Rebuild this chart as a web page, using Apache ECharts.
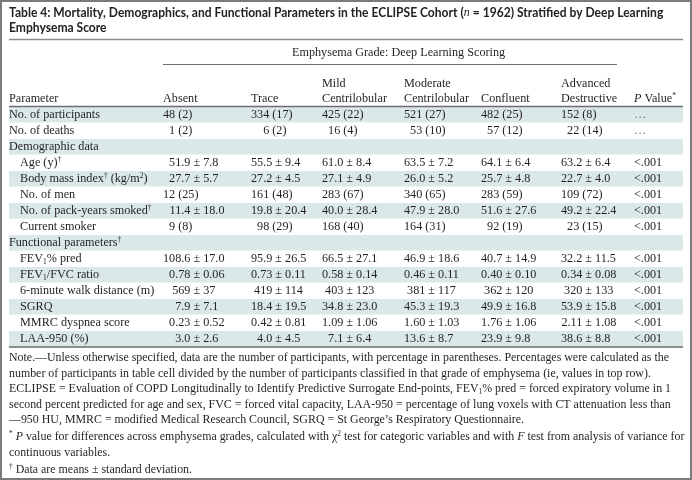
<!DOCTYPE html>
<html><head><meta charset="utf-8">
<script src="https://cdn.jsdelivr.net/npm/echarts@6/dist/echarts.min.js"></script>
<style>html,body{margin:0;padding:0;background:#fff}#c{width:692px;height:480px}</style>
</head><body><div id="c"></div>
<script>
// ---------- DATA ----------
const titleLines = [
  'Table 4: Mortality, Demographics, and Functional Parameters in the ECLIPSE Cohort ({ti|n} = 1962) Stratified by Deep Learning',
  'Emphysema Score'
];
const spannerLabel = 'Emphysema Grade: Deep Learning Scoring';
const columnHeaders = [
  ['', 'Parameter'], ['', 'Absent'], ['', 'Trace'], ['Mild', 'Centrilobular'],
  ['Moderate', 'Centrilobular'], ['', 'Confluent'], ['Advanced', 'Destructive'], ['', '{it|P} Value{sup|*}']
];
const rowLabels = [
  'No. of participants', 'No. of deaths', 'Demographic data', 'Age (y){sup|†}',
  'Body mass index{sup|†} (kg/m{sup|2})', 'No. of men', 'No. of pack-years smoked{sup|†}',
  'Current smoker', 'Functional parameters{sup|†}', 'FEV{sub|1}% pred', 'FEV{sub|1}/FVC ratio',
  '6-minute walk distance (m)', 'SGRQ', 'MMRC dyspnea score', 'LAA-950 (%)'
];
const rowLevel = [0, 0, 0, 1, 1, 1, 1, 1, 0, 1, 1, 1, 1, 1, 1];
const absentValues = ['48 (2)', '1 (2)', null, '51.9 ± 7.8', '27.7 ± 5.7', '12 (25)', '11.4 ± 18.0', '9 (8)', null,
  '108.6 ± 17.0', '0.78 ± 0.06', '569 ± 37', '7.9 ± 7.1', '0.23 ± 0.52', '3.0 ± 2.6'];
const traceValues = ['334 (17)', '6 (2)', null, '55.5 ± 9.4', '27.2 ± 4.5', '161 (48)', '19.8 ± 20.4', '98 (29)', null,
  '95.9 ± 26.5', '0.73 ± 0.11', '419 ± 114', '18.4 ± 19.5', '0.42 ± 0.81', '4.0 ± 4.5'];
const mildValues = ['425 (22)', '16 (4)', null, '61.0 ± 8.4', '27.1 ± 4.9', '283 (67)', '40.0 ± 28.4', '168 (40)', null,
  '66.5 ± 27.1', '0.58 ± 0.14', '403 ± 123', '34.8 ± 23.0', '1.09 ± 1.06', '7.1 ± 6.4'];
const moderateValues = ['521 (27)', '53 (10)', null, '63.5 ± 7.2', '26.0 ± 5.2', '340 (65)', '47.9 ± 28.0', '164 (31)', null,
  '46.9 ± 18.6', '0.46 ± 0.11', '381 ± 117', '45.3 ± 19.3', '1.60 ± 1.03', '13.6 ± 8.7'];
const confluentValues = ['482 (25)', '57 (12)', null, '64.1 ± 6.4', '25.7 ± 4.8', '283 (59)', '51.6 ± 27.6', '92 (19)', null,
  '40.7 ± 14.9', '0.40 ± 0.10', '362 ± 120', '49.9 ± 16.8', '1.76 ± 1.06', '23.9 ± 9.8'];
const advancedValues = ['152 (8)', '22 (14)', null, '63.2 ± 6.4', '22.7 ± 4.0', '109 (72)', '49.2 ± 22.4', '23 (15)', null,
  '32.2 ± 11.5', '0.34 ± 0.08', '320 ± 133', '53.9 ± 15.8', '2.11 ± 1.08', '38.6 ± 8.8'];
const pValues = ['…', '…', null, '<.001', '<.001', '<.001', '<.001', '<.001', null,
  '<.001', '<.001', '<.001', '<.001', '<.001', '<.001'];
const noteLines = [
  'Note.—Unless otherwise specified, data are the number of participants, with percentage in parentheses. Percentages were calculated as the',
  'number of participants in table cell divided by the number of participants classified in that grade of emphysema (ie, values in top row).',
  'ECLIPSE = Evaluation of COPD Longitudinally to Identify Predictive Surrogate End-points, FEV{sub|1}% pred = forced expiratory volume in 1',
  'second percent predicted for age and sex, FVC = forced vital capacity, LAA-950 = percentage of lung voxels with CT attenuation less than',
  '—950 HU, MMRC = modified Medical Research Council, SGRQ = St George\u2019s Respiratory Questionnaire.'
];
const footnoteLines = [
  '{sup|*} {it|P} value for differences across emphysema grades, calculated with χ{sup|2} test for categoric variables and with {it|F} test from analysis of variance for',
  'continuous variables.'
];
const daggerLines = ['{sup|†} Data are means ± standard deviation.'];

// ---------- LAYOUT / STYLE ----------
const W = 692, LEFT = 9, RIGHT = 683, INDENT = 11;
const TABLE_TOP = 106.5, ROW_H = 16, NROWS = rowLabels.length;
const TABLE_BOTTOM = TABLE_TOP + ROW_H * NROWS;
const colLeft = [163, 251, 322, 404, 481, 561];
const pLeft = 634;
const SERIF = '"Liberation Serif", "Times New Roman", serif';
const SANS = 'Lato, "Open Sans", sans-serif';
const INK = '#231f20';
const STRIPE = '#dbe8e9';
const FS = 13;

const ctx = document.createElement('canvas').getContext('2d');
function strip(s) { return s.replace(/\{\w+\|([^}]*)\}/g, '$1'); }
function tw(s, font) { ctx.font = font; return ctx.measureText(strip(s)).width; }
const bodyFont = FS + 'px ' + SERIF;
const kBody = 91 / tw('No. of participants', bodyFont);
const kNote = 660 / tw(noteLines[0], bodyFont);
const titleFont = 'bold 13px ' + SANS;
const kTitle = 655 / tw(titleLines[0], titleFont);

function rich(fam, size, weight) {
  return {
    sup: { fontFamily: fam, fontSize: Math.round(size * 0.62), fontWeight: weight, fill: INK, verticalAlign: 'top', lineHeight: size + 1 },
    sub: { fontFamily: fam, fontSize: Math.round(size * 0.62), fontWeight: weight, fill: INK, verticalAlign: 'bottom', lineHeight: size + 1 },
    it: { fontFamily: fam, fontSize: size, fontStyle: 'italic', fontWeight: weight, fill: INK, lineHeight: size + 1 },
    ti: { fontFamily: SERIF, fontSize: size, fontStyle: 'italic', fontWeight: 'normal', fill: INK, lineHeight: size + 1 }
  };
}
function T(text, x, y, align, k, opt) {
  opt = opt || {};
  const fam = opt.fam || SERIF, size = opt.size || FS, weight = opt.weight || 'normal';
  return {
    type: 'text', x: x, y: y, scaleX: k, silent: true, z: 10,
    style: {
      x: 0, y: 0, text: text, align: align, verticalAlign: 'middle',
      textAlign: align, textVerticalAlign: 'middle',
      fontFamily: fam, fontSize: size, fontWeight: weight, fill: opt.fill || INK,
      lineHeight: size + 1, rich: rich(fam, size, weight)
    }
  };
}
function line(x1, x2, y, w, color) {
  return { type: 'line', silent: true, z: 5, shape: { x1: x1, y1: y, x2: x2, y2: y }, style: { stroke: color, lineWidth: w } };
}

const valueColumns = [absentValues, traceValues, mildValues, moderateValues, confluentValues, advancedValues];
function splitVal(v) {
  let i = v.indexOf(' ± ');
  if (i >= 0) return { kind: 'pm', l: v.slice(0, i), r: v.slice(i) };
  i = v.indexOf(' (');
  return { kind: 'pc', l: v.slice(0, i), r: v.slice(i) };
}
const anchors = valueColumns.map((arr, ci) => {
  const m = { pm: 0, pc: 0 };
  arr.forEach(v => { if (v == null) return; const s = splitVal(v); m[s.kind] = Math.max(m[s.kind], tw(s.l, bodyFont)); });
  return { pm: colLeft[ci] + m.pm * kBody, pc: colLeft[ci] + m.pc * kBody };
});

// ---------- GRAPHIC (title, headers, rules, notes) ----------
const g = [];
g.push({ type: 'rect', silent: true, z: 1, shape: { x: 1, y: 1, width: 690, height: 478 }, style: { fill: 'none', stroke: '#7a7a7a', lineWidth: 2 } });
titleLines.forEach((t, i) => g.push(T(t, LEFT, 12.5 + i * 15, 'left', kTitle, { fam: SANS, size: 13, weight: 'bold', fill: '#222' })));
g.push(line(LEFT, RIGHT, 39.5, 1.5, '#8c8c8c'));
g.push(T(spannerLabel, 292, 53, 'left', kBody));
g.push(line(colLeft[0], 617, 64.5, 1, '#6e6e6e'));
const hdrX = [LEFT].concat(colLeft).concat([pLeft]);
columnHeaders.forEach((h, i) => {
  if (h[0]) g.push(T(h[0], hdrX[i], 84, 'left', kBody));
  g.push(T(h[1], hdrX[i], 99, 'left', kBody));
});
g.push(line(LEFT, RIGHT, TABLE_TOP, 1.5, '#6e6e6e'));
g.push(line(LEFT, RIGHT, TABLE_BOTTOM + 0.5, 2, '#8c8c8c'));
let ny = TABLE_BOTTOM + 11;
noteLines.forEach(t => { g.push(T(t, LEFT, ny, 'left', kNote)); ny += 15.6; });
ny += 1.5;
footnoteLines.forEach(t => { g.push(T(t, LEFT, ny, 'left', kNote)); ny += 15.6; });
ny += 1.5;
daggerLines.forEach(t => { g.push(T(t, LEFT, ny, 'left', kNote)); ny += 15.6; });

// ---------- CHART ----------
const chart = echarts.init(document.getElementById('c'), null, { renderer: 'canvas' });
chart.setOption({
  animation: false,
  backgroundColor: '#fff',
  grid: { left: 0, right: 0, top: TABLE_TOP, height: ROW_H * NROWS, containLabel: false },
  xAxis: { type: 'value', min: 0, max: W, show: false },
  yAxis: { type: 'category', inverse: true, data: rowLabels.map(strip), show: false },
  graphic: g,
  series: [{
    type: 'custom',
    coordinateSystem: 'cartesian2d',
    encode: { x: 0, y: 1 },
    data: rowLabels.map((_, i) => [0, i]),
    renderItem: function (params, api) {
      const i = api.value(1);
      const yc = api.coord([0, i])[1];
      const bandH = api.size([0, 1])[1];
      const ch = [];
      if (i % 2 === 0) ch.push({ type: 'rect', silent: true, z: 1, shape: { x: api.coord([LEFT, i])[0], y: yc - bandH / 2 + 0.5, width: RIGHT - LEFT, height: bandH - 0.5 }, style: { fill: STRIPE } });
      ch.push(T(rowLabels[i], api.coord([LEFT + (rowLevel[i] ? INDENT : 0), i])[0], yc, 'left', kBody));
      valueColumns.forEach((arr, ci) => {
        const v = arr[i]; if (v == null) return;
        const s = splitVal(v); const ax = api.coord([anchors[ci][s.kind], i])[0];
        ch.push(T(s.l, ax, yc, 'right', kBody));
        ch.push(T(s.r, ax, yc, 'left', kBody));
      });
      if (pValues[i] != null) ch.push(T(pValues[i], api.coord([pLeft, i])[0], yc, 'left', kBody, { fill: pValues[i] === '…' ? '#777' : INK }));
      return { type: 'group', children: ch };
    }
  }]
});
</script></body></html>
